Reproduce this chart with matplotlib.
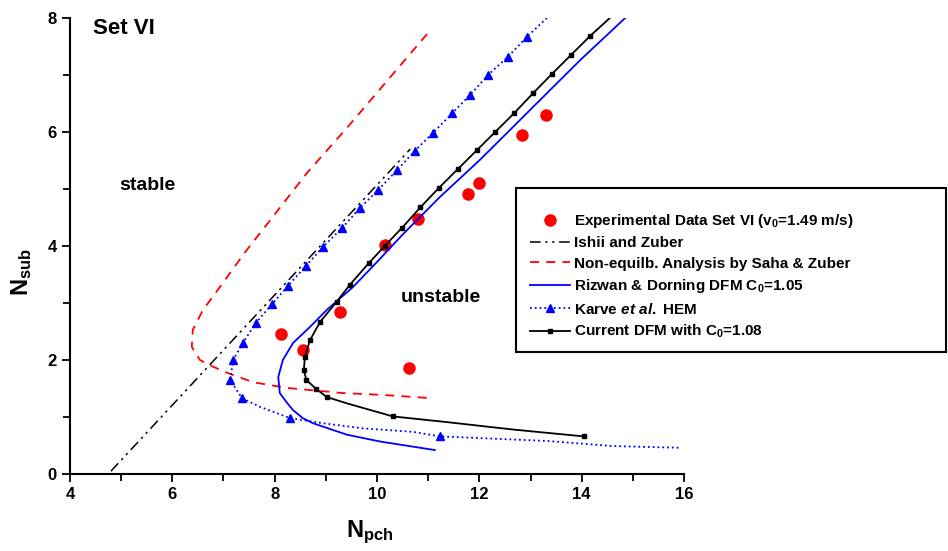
import numpy as np
import matplotlib
matplotlib.use("Agg")
from matplotlib import pyplot as plt
from matplotlib.patches import Rectangle
from matplotlib.ticker import MultipleLocator

plt.rcParams['font.family'] = 'Liberation Sans'
plt.rcParams['font.weight'] = 'bold'
plt.rcParams['mathtext.fontset'] = 'custom'
plt.rcParams['mathtext.rm'] = 'Liberation Sans:bold'
plt.rcParams['mathtext.bf'] = 'Liberation Sans:bold'
plt.rcParams['mathtext.it'] = 'Liberation Sans:italic:bold'

# experimental data set VI
exp_x = [8.13, 8.55, 9.27, 10.63, 10.15, 10.8, 11.78, 12.0, 12.83, 13.3]
exp_y = [2.46, 2.17, 2.84, 1.86, 4.01, 4.47, 4.91, 5.10, 5.95, 6.30]

# Ishii and Zuber
iz_x = [4.8, 10.65]
iz_y = [0.05, 5.7]

# non-equilibrium analysis, Saha & Zuber
sz_x = [10.98, 10.21, 9.41, 8.63, 7.91, 7.42, 6.93, 6.60, 6.40, 6.38, 6.54, 6.80, 7.09, 7.58, 8.24, 9.33, 10.06, 11.07]
sz_y = [7.72, 6.91, 6.07, 5.28, 4.45, 3.89, 3.28, 2.88, 2.53, 2.23, 2.00, 1.88, 1.77, 1.61, 1.51, 1.42, 1.39, 1.33]

# Rizwan & Dorning DFM C0=1.05
rd_x = [14.85, 13.97, 13.32, 12.66, 12.01, 11.23, 10.5, 10.0, 9.53, 9.02, 8.69, 8.36, 8.16, 8.07, 8.10,
        8.24, 8.36, 8.55, 8.75, 9.41, 10.06, 11.13]
rd_y = [8.0, 7.26, 6.68, 6.09, 5.51, 4.86, 4.2, 3.72, 3.28, 2.88, 2.58, 2.30, 2.0, 1.70, 1.42,
        1.25, 1.12, 0.98, 0.89, 0.69, 0.57, 0.42]

# Karve et al. HEM
kv_x = [13.32, 12.93, 12.56, 12.17, 11.82, 11.47, 11.09, 10.74, 10.39, 10.02, 9.67, 9.32, 8.94, 8.61, 8.26,
        7.95, 7.63, 7.38, 7.19, 7.13, 7.36, 7.71, 8.30, 8.95, 9.73, 10.70, 11.23, 12.01, 13.32, 14.61, 15.92]
kv_y = [8.0, 7.67, 7.32, 7.0, 6.65, 6.33, 5.98, 5.67, 5.33, 4.98, 4.67, 4.32, 3.98, 3.65, 3.30,
        2.98, 2.65, 2.30, 2.0, 1.65, 1.33, 1.18, 0.98, 0.89, 0.80, 0.74, 0.66, 0.63, 0.58, 0.49, 0.46]

# current DFM C0=1.08
cd_x = [14.55, 14.16, 13.79, 13.42, 13.05, 12.68, 12.31, 11.95, 11.58, 11.21, 10.85, 10.49, 10.15, 9.84,
        9.47, 9.21, 8.89, 8.69, 8.59, 8.57, 8.62, 8.80, 9.02, 9.41, 10.31, 11.37, 12.66, 14.04]
cd_y = [8.0, 7.68, 7.35, 7.02, 6.68, 6.33, 6.0, 5.68, 5.35, 5.02, 4.68, 4.32, 4.0, 3.70,
        3.32, 3.02, 2.67, 2.35, 2.05, 1.82, 1.65, 1.50, 1.35, 1.24, 1.01, 0.91, 0.78, 0.66]

W, H = 948, 551
fig = plt.figure(figsize=(W/100, H/100), dpi=100)
ax = fig.add_axes([70/W, 1-474/H, 614/W, 456/H])

l_exp, = ax.plot(exp_x, exp_y, 'o', color='red', ms=8, ls='none')
l_iz, = ax.plot(iz_x, iz_y, color='black', lw=1.1, dashes=[7, 3, 1.5, 3, 1.5, 3])
l_sz, = ax.plot(sz_x, sz_y, color='red', lw=1.3, dashes=[5, 4])
l_rd, = ax.plot(rd_x, rd_y, color='blue', lw=1.3)
l_kv, = ax.plot(kv_x, kv_y, color='blue', lw=1.3, ls=':', marker='^', ms=6,
                markevery=list(range(1, 21)) + [22, 26])
l_cd, = ax.plot(cd_x, cd_y, color='black', lw=1.3, marker='s', ms=3.5,
                markevery=list(range(1, 23)) + [24, 27])

ax.set_xlim(4, 16)
ax.set_ylim(0, 8)
ax.xaxis.set_major_locator(MultipleLocator(2))
ax.xaxis.set_minor_locator(MultipleLocator(1))
ax.yaxis.set_major_locator(MultipleLocator(2))
ax.yaxis.set_minor_locator(MultipleLocator(1))
ax.spines['top'].set_visible(False)
ax.spines['right'].set_visible(False)
for s in ['left', 'bottom']:
    ax.spines[s].set_linewidth(1.5)
ax.tick_params(which='both', direction='out', width=1.3, labelsize=12)
ax.tick_params(which='major', length=6)
ax.tick_params(which='minor', length=5)
for lab in ax.get_xticklabels() + ax.get_yticklabels():
    lab.set_fontweight('bold')

ax.text(4.45, 7.82, 'Set VI', fontsize=16, fontweight='bold', va='center')
ax.text(4.96, 5.07, 'stable', fontsize=14, fontweight='bold', va='center')
ax.text(10.47, 3.09, 'unstable', fontsize=14, fontweight='bold', va='center')

fig.text(22/W, 1-272/H, r'N$_{\mathrm{sub}}$', fontsize=17, rotation=90, ha='center', va='center')
fig.text(370/W, 1-532/H, r'N$_{\mathrm{pch}}$', fontsize=17, ha='center', va='center')

# legend box
fig.patches.append(Rectangle((516/W, 1-352/H), 430/W, 164/H, transform=fig.transFigure,
                             fill=False, edgecolor='black', lw=1.5))
labels = [r'Experimental Data Set VI (v$_0$=1.49 m/s)',
          'Ishii and Zuber',
          'Non-equilb. Analysis by Saha & Zuber',
          r'Rizwan & Dorning DFM C$_0$=1.05',
          r'Karve $\mathit{et\ al.}$ HEM',
          r'Current DFM with C$_0$=1.08']
leg = fig.legend([l_exp, l_iz, l_sz, l_rd, l_kv, l_cd], labels, loc='upper left',
                 bbox_to_anchor=(530/W, 1-212/H), frameon=False, fontsize=11,
                 borderpad=0, borderaxespad=0, labelspacing=0.42, handlelength=2.6,
                 handletextpad=0.3, numpoints=1)
for h in leg.legend_handles:
    try:
        h.set_markevery([1])
    except Exception:
        pass

fig.savefig('out.png', dpi=100)
